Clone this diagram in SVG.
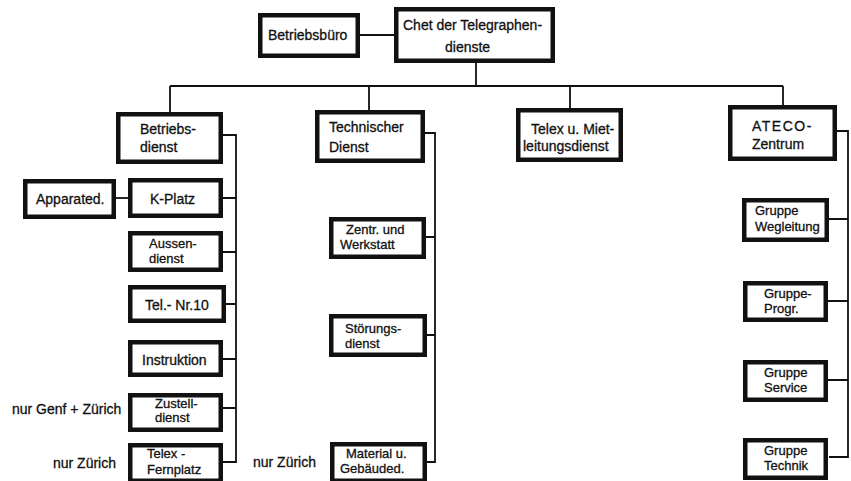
<svg xmlns="http://www.w3.org/2000/svg" width="851" height="481" viewBox="0 0 851 481">
<style>
.box{fill:#fff;stroke:#111;stroke-width:4.5}
.ln{fill:none;stroke:#111;stroke-width:1.8}
.t{font-family:"Liberation Sans",Arial,sans-serif;font-size:14px;fill:#111;stroke:#111;stroke-width:0.3}
.s{font-size:13px}
</style>
<rect width="851" height="481" fill="#fff"/>
<g id="connectors" class="ln">
<path d="M360 35H394"/>
<path d="M476 63V86"/>
<path d="M170 86H783"/>
<path d="M170 86V112M369 86V110M570 86V108M783 86V107"/>
<path d="M223 135H236V462H223M223 198H236M223 252H236M226 304H236M223 359H236M223 408H236"/>
<path d="M116 198H128"/>
<path d="M425 133H435V462H427M426 237H435M427 335H435"/>
<path d="M836 131H848V457H829M829 219H848M828 301H848M828 380H848"/>
</g>
<g id="betriebsbuero"><rect class="box" x="260.25" y="15.25" width="97.5" height="40.5"/><text class="t" x="268" y="40">Betriebsbüro</text></g>
<g id="chef"><rect class="box" x="396.25" y="9.25" width="156.5" height="51.5"/><text class="t" x="403" y="30">Chet der Telegraphen-</text><text class="t" x="445" y="52">dienste</text></g>
<g id="betriebsdienst"><rect class="box" x="118.25" y="114.25" width="102.5" height="47.5"/><text class="t" x="140" y="134">Betriebs-</text><text class="t" x="140" y="152">dienst</text></g>
<g id="apparated"><rect class="box" x="25.25" y="181.25" width="88.5" height="35.5"/><text class="t" x="36" y="204">Apparated.</text></g>
<g id="kplatz"><rect class="box" x="130.25" y="180.25" width="90.5" height="35.5"/><text class="t" x="150" y="204">K-Platz</text></g>
<g id="aussendienst"><rect class="box" x="130.25" y="233.25" width="90.5" height="36.5"/><text class="t s" x="149" y="248">Aussen-</text><text class="t s" x="149" y="263">dienst</text></g>
<g id="telnr10"><rect class="box" x="130.25" y="287.25" width="93.5" height="33.5"/><text class="t" x="145" y="310">Tel.- Nr.10</text></g>
<g id="instruktion"><rect class="box" x="130.25" y="342.25" width="90.5" height="32.5"/><text class="t" x="142" y="365">Instruktion</text></g>
<g id="zustelldienst"><rect class="box" x="130.25" y="395.25" width="90.5" height="34.5"/><text class="t s" x="155" y="408">Zustell-</text><text class="t s" x="155" y="422">dienst</text></g>
<g id="telexfernplatz"><rect class="box" x="130.25" y="445.25" width="90.5" height="35.5"/><text class="t s" x="147" y="458">Telex -</text><text class="t s" x="147" y="474">Fernplatz</text></g>
<g id="note1"><text class="t" x="12" y="414">nur Genf + Zürich</text></g>
<g id="note2"><text class="t" x="53" y="468">nur Zürich</text></g>
<g id="technischer"><rect class="box" x="317.25" y="112.25" width="105.5" height="48.5"/><text class="t" x="329" y="132">Technischer</text><text class="t" x="329" y="152">Dienst</text></g>
<g id="zentr"><rect class="box" x="331.25" y="219.25" width="92.5" height="37.5"/><text class="t s" x="346" y="234">Zentr. und</text><text class="t s" x="340" y="249">Werkstatt</text></g>
<g id="stoerung"><rect class="box" x="331.25" y="316.25" width="93.5" height="38.5"/><text class="t s" x="345" y="333">Störungs-</text><text class="t s" x="345" y="348">dienst</text></g>
<g id="material"><rect class="box" x="332.25" y="444.25" width="92.5" height="36.5"/><text class="t s" x="346" y="458">Material u.</text><text class="t s" x="340" y="473">Gebäuded.</text></g>
<g id="note3"><text class="t" x="253" y="467">nur Zürich</text></g>
<g id="telexmiet"><rect class="box" x="518.25" y="110.25" width="102.5" height="49.5"/><text class="t" x="531" y="134">Telex u. Miet-</text><text class="t" x="523" y="151">leitungsdienst</text></g>
<g id="ateco"><rect class="box" x="730.25" y="107.25" width="104.5" height="51.5"/><text class="t" x="752" y="131" letter-spacing="1.5">ATECO-</text><text class="t" x="752" y="149">Zentrum</text></g>
<g id="wegleitung"><rect class="box" x="744.25" y="200.25" width="82.5" height="39.5"/><text class="t s" x="755" y="215">Gruppe</text><text class="t s" x="755" y="231">Wegleitung</text></g>
<g id="progr"><rect class="box" x="745.25" y="283.25" width="80.5" height="36.5"/><text class="t s" x="764" y="298">Gruppe-</text><text class="t s" x="764" y="313">Progr.</text></g>
<g id="service"><rect class="box" x="745.25" y="362.25" width="80.5" height="37.5"/><text class="t s" x="764" y="377">Gruppe</text><text class="t s" x="764" y="392">Service</text></g>
<g id="technik"><rect class="box" x="745.25" y="440.25" width="80.5" height="37.5"/><text class="t s" x="764" y="455">Gruppe</text><text class="t s" x="764" y="470">Technik</text></g>
</svg>
